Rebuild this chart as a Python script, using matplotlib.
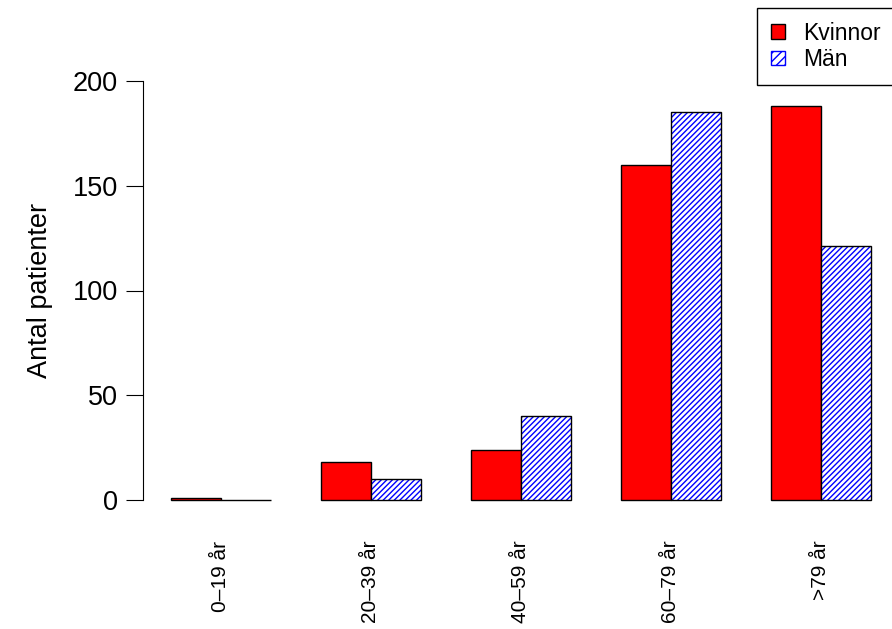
import matplotlib
matplotlib.use("Agg")
import matplotlib.pyplot as plt
from matplotlib.patches import Patch

categories = ["0–19 år", "20–39 år", "40–59 år", "60–79 år", ">79 år"]
kvinnor = [1, 18, 24, 160, 188]
man = [0, 10, 40, 185, 121]

plt.rcParams['font.family'] = ['Liberation Sans', 'DejaVu Sans']
plt.rcParams['hatch.linewidth'] = 1.0

fig = plt.figure(figsize=(8.92, 6.29), dpi=100)
ax = fig.add_axes([143/892, (629-517)/629, 756/892, (517-64)/629])

xk = [1 + 3*i for i in range(len(categories))]
xm = [x + 1 for x in xk]
ax.bar(xk, kvinnor, width=1, align='edge', color='red', edgecolor='black', linewidth=1)
ax.bar(xm, man, width=1, align='edge', color='white', edgecolor='blue', hatch='//////', linewidth=0)
ax.bar(xm, man, width=1, align='edge', fill=False, edgecolor='black', linewidth=1)

ax.set_xlim(0.44, 15.56)
ax.set_ylim(-8, 208)
for s in ['top', 'right', 'bottom']:
    ax.spines[s].set_visible(False)
ax.spines['left'].set_bounds(0, 200)
ax.set_yticks([0, 50, 100, 150, 200])
ax.tick_params(axis='y', labelsize=19.5, length=12, pad=6)
ax.set_xticks([x + 1 for x in xk])
ax.set_xticklabels(categories, rotation=90, fontsize=15)
ax.tick_params(axis='x', length=0, pad=17)
ax.set_ylabel("Antal patienter", fontsize=19.5, labelpad=14)

handles = [Patch(facecolor='red', edgecolor='black', label='Kvinnor'),
           Patch(facecolor='white', edgecolor='blue', hatch='////', label='Män')]
fig.legend(handles=handles, loc='upper left', bbox_to_anchor=(757/892, 1-8/629),
           fancybox=False, edgecolor='black', framealpha=1, fontsize=16.5,
           handlelength=0.6, handleheight=0.6, borderpad=0.6, labelspacing=0.15,
           handletextpad=0.8, borderaxespad=0)
fig.savefig("out.png", dpi=100)
